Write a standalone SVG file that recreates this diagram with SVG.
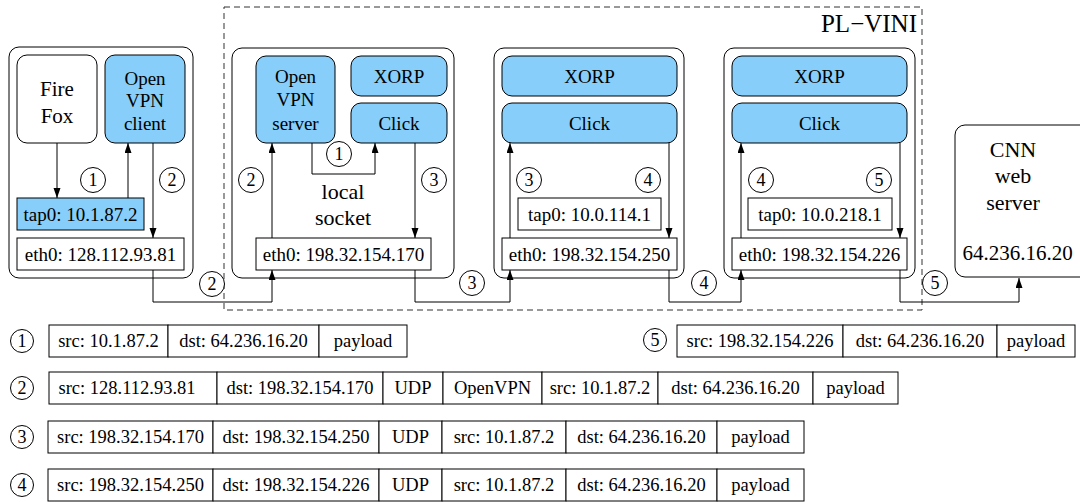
<svg xmlns="http://www.w3.org/2000/svg" width="1080" height="502" viewBox="0 0 1080 502">
<defs>
<marker id="ah" markerUnits="userSpaceOnUse" markerWidth="10" markerHeight="8" refX="10" refY="3.5" orient="auto">
<path d="M0,0 L10,3.5 L0,7 z" fill="#000"/>
</marker>
<style>
text{font-family:"Liberation Serif","Times New Roman",serif;fill:#000;text-anchor:middle}
.host{fill:#fff;stroke:#000;stroke-width:1}
.proc{fill:#87CEFA;stroke:#000;stroke-width:1}
.wproc{fill:#fff;stroke:#000;stroke-width:1}
.iface{fill:#fff;stroke:#000;stroke-width:1}
.tapb{fill:#87CEFA;stroke:#000;stroke-width:1}
.cell{fill:#fff;stroke:#000;stroke-width:1}
.num{fill:#fff;stroke:#000;stroke-width:1}
.lbl{font-size:19px}
.big{font-size:21px}
.nt{font-size:18px}
.pk{font-size:18.5px}
.wire{fill:none;stroke:#000;stroke-width:1}
.arr{fill:none;stroke:#000;stroke-width:1;marker-end:url(#ah)}
.vini{fill:none;stroke:#333;stroke-width:1;stroke-dasharray:6 4}
</style>
</defs>

<g id="pl-vini">
<rect class="vini" x="224" y="7" width="698" height="303"/>
<text x="917" y="32" style="font-size:25px;text-anchor:end">PL−VINI</text>
</g>

<g id="host1">
<rect class="host" x="9" y="47" width="184" height="231" rx="10"/>
<g id="firefox"><rect class="wproc" x="17" y="55" width="80" height="88" rx="10"/>
<text class="big" x="57" y="96">Fire</text><text class="big" x="57" y="123">Fox</text></g>
<g id="openvpn-client"><rect class="proc" x="105" y="55" width="80" height="88" rx="10"/>
<text class="lbl" x="145" y="85">Open</text><text class="lbl" x="145" y="107">VPN</text><text class="lbl" x="145" y="130">client</text></g>
<g id="tap0-h1"><rect class="tapb" x="17" y="198" width="127" height="32"/>
<text class="lbl" x="80.5" y="221">tap0: 10.1.87.2</text></g>
<g id="eth0-h1"><rect class="iface" x="17" y="238" width="167" height="32"/>
<text class="lbl" x="100.5" y="261">eth0: 128.112.93.81</text></g>
</g>

<g id="host2">
<rect class="host" x="232" y="48" width="222" height="230" rx="10"/>
<g id="openvpn-server"><rect class="proc" x="256" y="56" width="79" height="87" rx="10"/>
<text class="lbl" x="295.5" y="83">Open</text><text class="lbl" x="295.5" y="106">VPN</text><text class="lbl" x="295.5" y="130">server</text></g>
<g id="xorp-h2"><rect class="proc" x="351" y="56" width="96" height="40" rx="10"/>
<text class="lbl" x="399" y="82.5">XORP</text></g>
<g id="click-h2"><rect class="proc" x="351" y="103" width="96" height="40" rx="10"/>
<text class="lbl" x="399" y="129.5">Click</text></g>
<text style="font-size:22px" x="343" y="199">local</text>
<text style="font-size:22px" x="343" y="225">socket</text>
<g id="eth0-h2"><rect class="iface" x="256" y="238" width="175" height="32"/>
<text class="lbl" x="343.5" y="261">eth0: 198.32.154.170</text></g>
</g>

<g id="host3">
<rect class="host" x="494" y="48" width="190" height="230" rx="10"/>
<g id="xorp-h3"><rect class="proc" x="502" y="56" width="175" height="40" rx="10"/>
<text class="lbl" x="589.5" y="82.5">XORP</text></g>
<g id="click-h3"><rect class="proc" x="502" y="103" width="175" height="40" rx="10"/>
<text class="lbl" x="589.5" y="129.5">Click</text></g>
<g id="tap0-h3"><rect class="iface" x="518" y="198" width="143" height="32"/>
<text class="lbl" x="589.5" y="221">tap0: 10.0.114.1</text></g>
<g id="eth0-h3"><rect class="iface" x="502" y="238" width="175" height="32"/>
<text class="lbl" x="589.5" y="261">eth0: 198.32.154.250</text></g>
</g>

<g id="host4">
<rect class="host" x="724" y="48" width="191" height="230" rx="10"/>
<g id="xorp-h4"><rect class="proc" x="732" y="56" width="175" height="40" rx="10"/>
<text class="lbl" x="819.5" y="82.5">XORP</text></g>
<g id="click-h4"><rect class="proc" x="732" y="103" width="175" height="40" rx="10"/>
<text class="lbl" x="819.5" y="129.5">Click</text></g>
<g id="tap0-h4"><rect class="iface" x="748" y="198" width="144" height="32"/>
<text class="lbl" x="820" y="221">tap0: 10.0.218.1</text></g>
<g id="eth0-h4"><rect class="iface" x="732" y="238" width="175" height="32"/>
<text class="lbl" x="819.5" y="261">eth0: 198.32.154.226</text></g>
</g>

<g id="cnn">
<rect class="host" x="955" y="125" width="135" height="152" rx="10"/>
<text style="font-size:22px" x="1013" y="157">CNN</text>
<text style="font-size:22px" x="1013" y="183">web</text>
<text style="font-size:22px" x="1013" y="210">server</text>
<text class="big" x="1017.5" y="260">64.236.16.20</text>
</g>

<g id="connectors">
<line class="arr" x1="57" y1="143" x2="57" y2="198"/>
<line class="arr" x1="128" y1="198" x2="128" y2="143"/>
<line class="arr" x1="153" y1="143" x2="153" y2="238"/>
<polyline class="arr" points="153,270 153,302 272,302 272,270"/>
<line class="arr" x1="272" y1="238" x2="272" y2="143"/>
<polyline class="arr" points="312,143 312,174 375,174 375,143"/>
<line class="arr" x1="415" y1="143" x2="415" y2="238"/>
<polyline class="arr" points="415,270 415,302 510,302 510,270"/>
<line class="arr" x1="510" y1="238" x2="510" y2="143"/>
<line class="arr" x1="669" y1="143" x2="669" y2="238"/>
<polyline class="arr" points="669,270 669,302 741,302 741,270"/>
<line class="arr" x1="741" y1="238" x2="741" y2="143"/>
<line class="arr" x1="900" y1="143" x2="900" y2="238"/>
<polyline class="arr" points="900,270 900,302 1019,302 1019,278"/>
</g>

<g id="step-labels">
<circle class="num" cx="93" cy="180" r="12.5"/><text class="nt" x="93" y="186">1</text>
<circle class="num" cx="172" cy="180" r="12.5"/><text class="nt" x="172" y="186">2</text>
<circle class="num" cx="212" cy="284" r="12.5"/><text class="nt" x="212" y="290">2</text>
<circle class="num" cx="251" cy="180" r="12.5"/><text class="nt" x="251" y="186">2</text>
<circle class="num" cx="339" cy="154" r="12.5"/><text class="nt" x="339" y="160">1</text>
<circle class="num" cx="434" cy="180" r="12.5"/><text class="nt" x="434" y="186">3</text>
<circle class="num" cx="472" cy="283" r="12.5"/><text class="nt" x="472" y="289">3</text>
<circle class="num" cx="529" cy="180" r="12.5"/><text class="nt" x="529" y="186">3</text>
<circle class="num" cx="648" cy="180" r="12.5"/><text class="nt" x="648" y="186">4</text>
<circle class="num" cx="704" cy="283" r="12.5"/><text class="nt" x="704" y="289">4</text>
<circle class="num" cx="761" cy="180" r="12.5"/><text class="nt" x="761" y="186">4</text>
<circle class="num" cx="879" cy="180" r="12.5"/><text class="nt" x="879" y="186">5</text>
<circle class="num" cx="935" cy="283" r="12.5"/><text class="nt" x="935" y="289">5</text>
</g>

<g id="packet1">
<circle class="num" cx="22" cy="341" r="11.5"/><text class="nt" x="22" y="347">1</text>
<rect class="cell" x="49" y="325" width="119" height="32"/><text class="pk" x="108.5" y="347">src: 10.1.87.2</text>
<rect class="cell" x="168" y="325" width="151" height="32"/><text class="pk" x="243.5" y="347">dst: 64.236.16.20</text>
<rect class="cell" x="319" y="325" width="88" height="32"/><text class="pk" x="363" y="347">payload</text>
</g>

<g id="packet2">
<circle class="num" cx="22" cy="388" r="11.5"/><text class="nt" x="22" y="394">2</text>
<rect class="cell" x="49" y="372" width="168" height="32"/><text class="pk" x="127" y="394">src: 128.112.93.81</text>
<rect class="cell" x="217" y="372" width="166" height="32"/><text class="pk" x="300" y="394">dst: 198.32.154.170</text>
<rect class="cell" x="383" y="372" width="60" height="32"/><text class="pk" x="413" y="394">UDP</text>
<rect class="cell" x="443" y="372" width="99" height="32"/><text class="pk" x="492.5" y="394">OpenVPN</text>
<rect class="cell" x="542" y="372" width="116" height="32"/><text class="pk" x="600" y="394">src: 10.1.87.2</text>
<rect class="cell" x="658" y="372" width="155" height="32"/><text class="pk" x="735.5" y="394">dst: 64.236.16.20</text>
<rect class="cell" x="813" y="372" width="85" height="32"/><text class="pk" x="855.5" y="394">payload</text>
</g>

<g id="packet3">
<circle class="num" cx="22" cy="437" r="11.5"/><text class="nt" x="22" y="443">3</text>
<rect class="cell" x="48" y="421" width="165" height="32"/><text class="pk" x="130.5" y="443">src: 198.32.154.170</text>
<rect class="cell" x="213" y="421" width="166" height="32"/><text class="pk" x="296" y="443">dst: 198.32.154.250</text>
<rect class="cell" x="379" y="421" width="63" height="32"/><text class="pk" x="410.5" y="443">UDP</text>
<rect class="cell" x="442" y="421" width="124" height="32"/><text class="pk" x="504" y="443">src: 10.1.87.2</text>
<rect class="cell" x="566" y="421" width="151" height="32"/><text class="pk" x="641.5" y="443">dst: 64.236.16.20</text>
<rect class="cell" x="717" y="421" width="87" height="32"/><text class="pk" x="760.5" y="443">payload</text>
</g>

<g id="packet4">
<circle class="num" cx="22" cy="485" r="11.5"/><text class="nt" x="22" y="491">4</text>
<rect class="cell" x="48" y="469" width="165" height="32"/><text class="pk" x="130.5" y="491">src: 198.32.154.250</text>
<rect class="cell" x="213" y="469" width="166" height="32"/><text class="pk" x="296" y="491">dst: 198.32.154.226</text>
<rect class="cell" x="379" y="469" width="63" height="32"/><text class="pk" x="410.5" y="491">UDP</text>
<rect class="cell" x="442" y="469" width="124" height="32"/><text class="pk" x="504" y="491">src: 10.1.87.2</text>
<rect class="cell" x="566" y="469" width="151" height="32"/><text class="pk" x="641.5" y="491">dst: 64.236.16.20</text>
<rect class="cell" x="717" y="469" width="87" height="32"/><text class="pk" x="760.5" y="491">payload</text>
</g>

<g id="packet5">
<circle class="num" cx="655" cy="340" r="11.5"/><text class="nt" x="655" y="346">5</text>
<rect class="cell" x="677" y="325" width="166" height="32"/><text class="pk" x="760" y="347">src: 198.32.154.226</text>
<rect class="cell" x="843" y="325" width="154" height="32"/><text class="pk" x="920" y="347">dst: 64.236.16.20</text>
<rect class="cell" x="997" y="325" width="78" height="32"/><text class="pk" x="1036" y="347">payload</text>
</g>
</svg>
